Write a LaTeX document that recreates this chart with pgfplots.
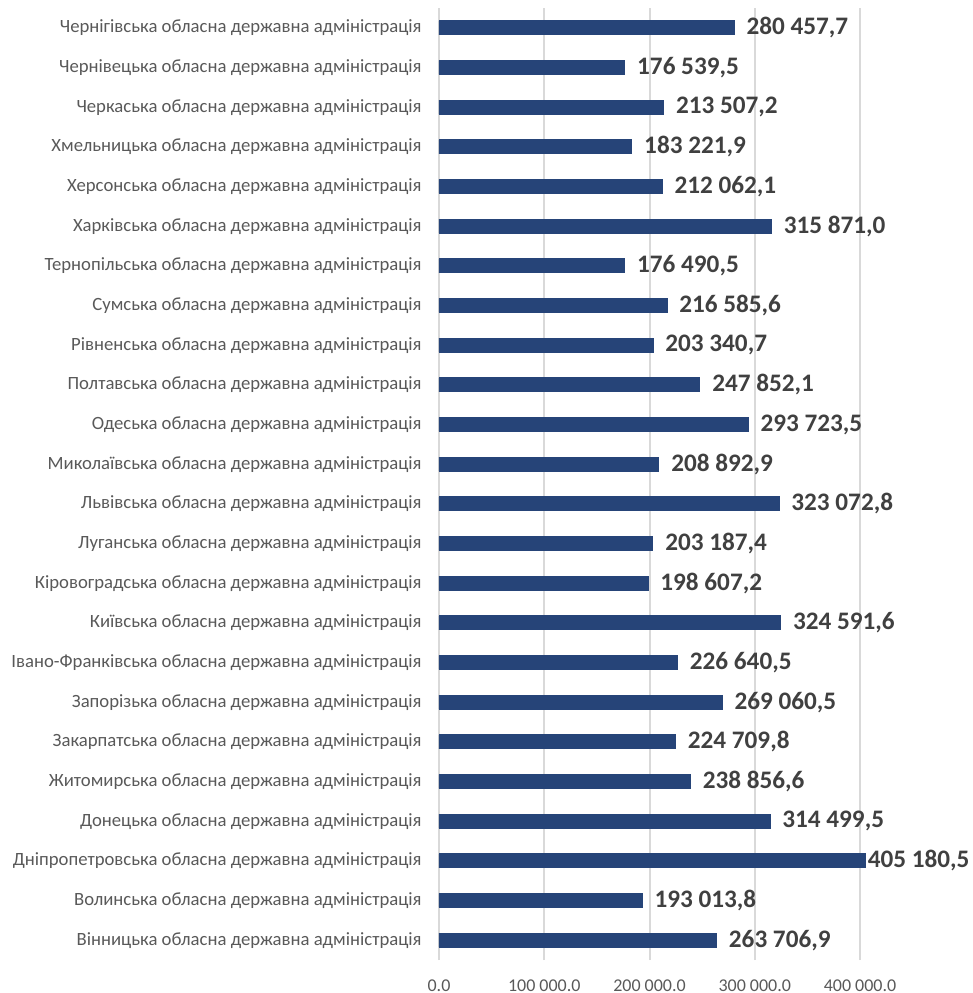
\documentclass[border=0pt]{standalone}
\usepackage{fontspec}
\setmainfont{Carlito}
\usepackage{pgfplots}
\usepackage{pgfplotstable}
\pgfplotsset{compat=1.18}
\definecolor{barblue}{HTML}{264478}
\definecolor{gridgray}{HTML}{D9D9D9}
\definecolor{labgray}{HTML}{595959}
\definecolor{valgray}{HTML}{404040}

% y = position from the bottom, off = gap before the value label (pt)
\pgfplotstableread[col sep=semicolon]{
y;x;off;lab
0;263706.9;6;263 706,9
1;193013.8;6;193 013,8
2;405180.5;1;405 180,5
3;314499.5;6;314 499,5
4;238856.6;6;238 856,6
5;224709.8;6;224 709,8
6;269060.5;6;269 060,5
7;226640.5;6;226 640,5
8;324591.6;6;324 591,6
9;198607.2;6;198 607,2
10;203187.4;6;203 187,4
11;323072.8;6;323 072,8
12;208892.9;6;208 892,9
13;293723.5;6;293 723,5
14;247852.1;6;247 852,1
15;203340.7;6;203 340,7
16;216585.6;6;216 585,6
17;176490.5;6;176 490,5
18;315871.0;6;315 871,0
19;212062.1;6;212 062,1
20;183221.9;6;183 221,9
21;213507.2;6;213 507,2
22;176539.5;6;176 539,5
23;280457.7;6;280 457,7
}\admdata

\begin{document}
\begin{tikzpicture}
\begin{axis}[
  scale only axis,
  width=210.5pt, height=476pt,
  xbar, bar width=7pt, bar shift=0pt,
  xmin=0, xmax=400000,
  ymin=-0.5, ymax=23.5,
  clip=false,
  axis line style={draw=none},
  major tick length=0pt,
  xmajorgrids,
  major grid style={gridgray, line width=1pt},
  scaled x ticks=false,
  xtick={0,100000,200000,300000,400000},
  xticklabels={0.0,100 000.0,200 000.0,300 000.0,400 000.0},
  xticklabel style={font=\fontsize{9}{10}\selectfont, text=labgray, inner sep=0pt, anchor=north, yshift=-9.5pt},
  ytick={0,...,23},
  yticklabels={
    Вінницька обласна державна адміністрація,
    Волинська обласна державна адміністрація,
    Дніпропетровська обласна державна адміністрація,
    Донецька обласна державна адміністрація,
    Житомирська обласна державна адміністрація,
    Закарпатська обласна державна адміністрація,
    Запорізька обласна державна адміністрація,
    Івано-Франківська обласна державна адміністрація,
    Київська обласна державна адміністрація,
    Кіровоградська обласна державна адміністрація,
    Луганська обласна державна адміністрація,
    Львівська обласна державна адміністрація,
    Миколаївська обласна державна адміністрація,
    Одеська обласна державна адміністрація,
    Полтавська обласна державна адміністрація,
    Рівненська обласна державна адміністрація,
    Сумська обласна державна адміністрація,
    Тернопільська обласна державна адміністрація,
    Харківська обласна державна адміністрація,
    Херсонська обласна державна адміністрація,
    Хмельницька обласна державна адміністрація,
    Черкаська обласна державна адміністрація,
    Чернівецька обласна державна адміністрація,
    Чернігівська обласна державна адміністрація},
  yticklabel style={font=\fontsize{9.35}{10}\selectfont, text=labgray, inner sep=0pt, anchor=east, xshift=-8.5pt},
  nodes near coords,
  point meta=explicit symbolic,
  visualization depends on={\thisrow{off} \as \labeloff},
  nodes near coords style={font=\bfseries\fontsize{12.6}{14}\selectfont, text=valgray, anchor=west, inner sep=0pt, xshift=\labeloff pt},
]
\addplot[fill=barblue, draw=barblue] table[x=x, y=y, meta=lab] {\admdata};
\end{axis}
\pgfresetboundingbox
\path[use as bounding box] ([shift={(-219.5pt,-16.5pt)}]current axis.south west) rectangle ([shift={(56pt,4pt)}]current axis.north east);
\end{tikzpicture}
\end{document}
